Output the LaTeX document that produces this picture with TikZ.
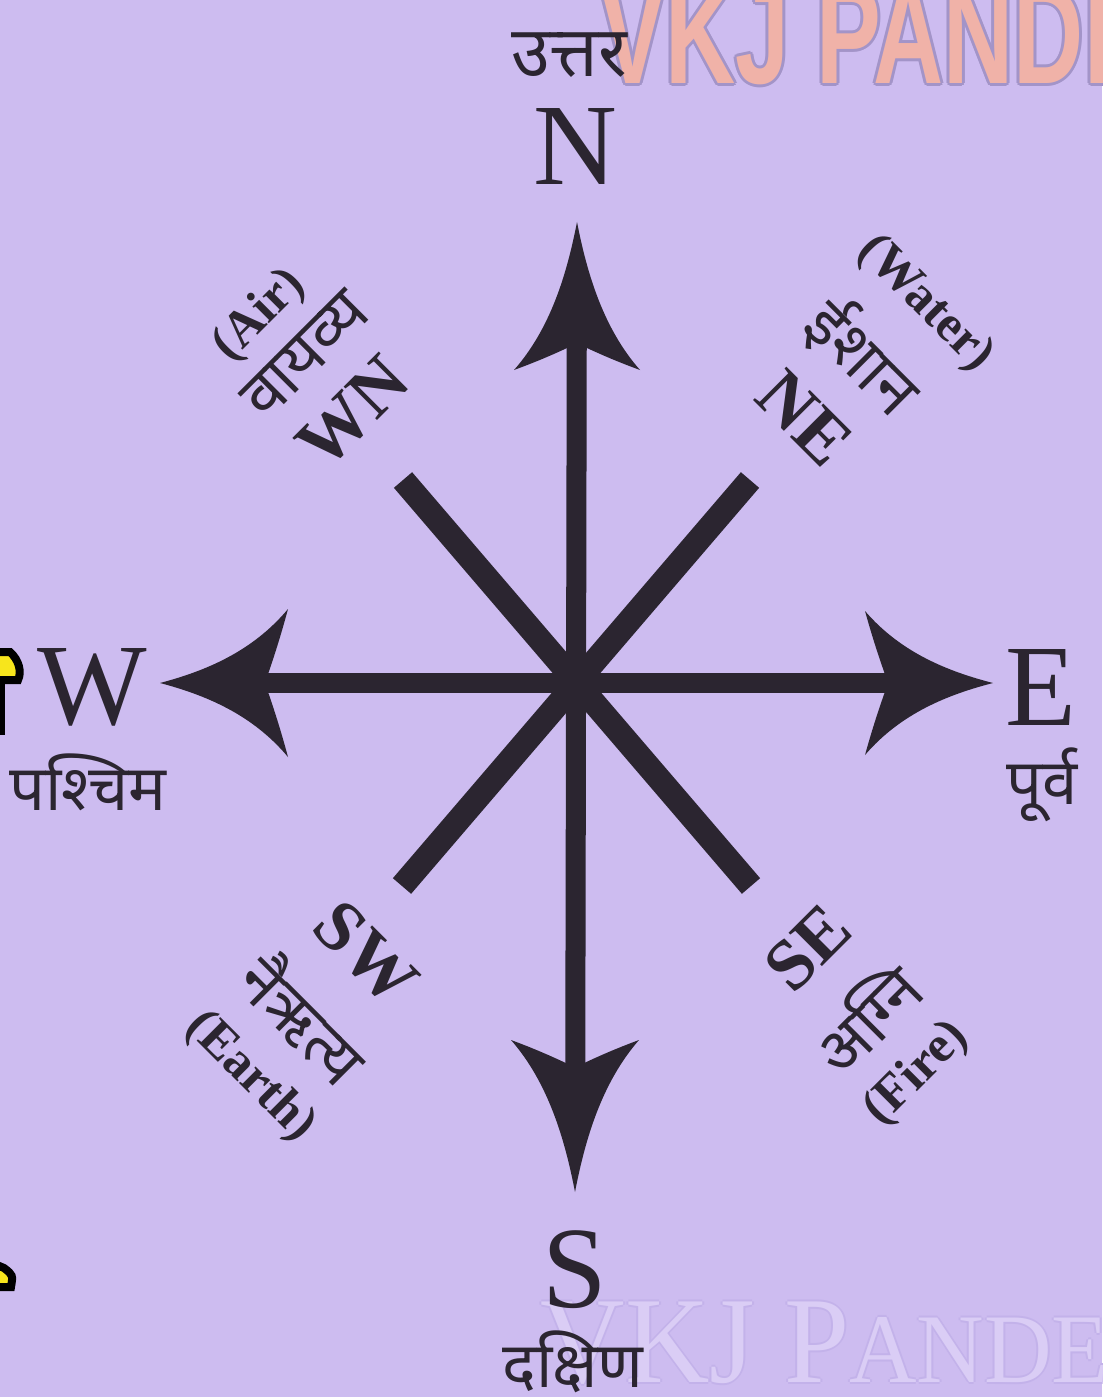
\documentclass[tikz,border=0pt]{standalone}
\usepackage{fontspec}
\setmainfont{Liberation Serif}
\newfontfamily\hindi[Script=Devanagari]{Noto Sans}
\newfontfamily\wmsans{Liberation Sans}
\usepackage{xcolor}
\definecolor{lavender}{HTML}{CDBCF0}
\definecolor{ink}{HTML}{2B2530}
\definecolor{wmfill}{HTML}{F0B2A8}
\definecolor{wmedge}{HTML}{A394C8}
\definecolor{wmpale}{HTML}{DACDF5}
\definecolor{wmpaleedge}{HTML}{C3B2EA}
\definecolor{tagyellow}{HTML}{F7E51C}
\usetikzlibrary{positioning}
\tikzset{
  bigdir/.style ={font=\fontsize{33}{36}\selectfont, text=ink, inner sep=0pt},
  diagdir/.style={font=\bfseries\fontsize{20.5}{22}\selectfont, text=ink, inner sep=0pt},
  elem/.style   ={font=\bfseries\fontsize{14.5}{16}\selectfont, text=ink, inner sep=0pt},
  hin/.style    ={font=\hindi\fontsize{18}{21}\selectfont, text=ink, inner sep=0pt},
  hinrot/.style ={font=\hindi\fontsize{18.5}{21}\selectfont, text=ink, inner sep=0pt},
  shaft/.style  ={draw=ink, line width=2mm, shorten <=6mm, shorten >=6mm},
  spoke/.style  ={draw=ink, line width=2.4mm},
  wmtop/.style  ={font=\wmsans\bfseries\fontsize{40}{42}\selectfont, xscale=0.69, inner sep=0pt, anchor=base west},
  wmbot/.style  ={font=\fontsize{35}{38}\selectfont, xscale=0.95, inner sep=0pt, anchor=base west},
  pics/barbhead/.style n args={2}{code={
    \fill[ink] (0,0) .. controls (-0.35*#1,0.16*#2) and (-0.72*#1,0.42*#2) .. (-#1,#2)
      .. controls (-0.93*#1,0.55*#2) and (-0.87*#1,0.25*#2) .. (-0.82*#1,0)
      .. controls (-0.87*#1,-0.25*#2) and (-0.93*#1,-0.55*#2) .. (-#1,-#2)
      .. controls (-0.72*#1,-0.42*#2) and (-0.35*#1,-0.16*#2) .. (0,0) -- cycle;
  }},
}

\begin{document}
\begin{tikzpicture}[x=0.01cm, y=-0.01cm]
  \useasboundingbox (0,0) rectangle (1102,1397);
  \fill[lavender] (0,0) rectangle (1102,1397);
  \clip (0,0) rectangle (1102,1397);
  % watermarks
  \foreach \dx/\dy in {-3/0,3/0,0/-3,0/3,-2/-2,2/2,-2/2,2/-2}
    \node[wmtop, text=wmedge] at (600+\dx,84+\dy) {VKJ PANDEY};
  \node[wmtop, text=wmfill] (wmtopline) at (600,84) {VKJ PANDEY};
  \foreach \dx/\dy in {-2/0,2/0,0/-2,0/2}
    \node[wmbot, text=wmpaleedge] at (540+\dx,1382+\dy) {VKJ P{\fontsize{28}{30}\selectfont ANDEY}};
  \node[wmbot, text=wmpale] (wmbotline) at (540,1382) {VKJ P{\fontsize{28}{30}\selectfont ANDEY}};
  % bits at the left edge
  \filldraw[fill=tagyellow, draw=black, line width=0.8mm]
    (-10,652) -- (10,652) .. controls (19,660) and (22,672) .. (18,680) -- (-10,680) -- cycle;
  \fill[black] (-5,680) rectangle (5,735);
  \filldraw[fill=tagyellow, draw=black, line width=0.8mm]
    (-10,1262) -- (4,1268) .. controls (13,1275) .. (11,1287) -- (-10,1287) -- cycle;

  % compass
  \coordinate (ctr)   at (576,683);
  \coordinate (ntip)  at (577,222);
  \coordinate (stip)  at (575,1192);
  \coordinate (wtip)  at (160,683);
  \coordinate (etip)  at (993,683);
  \coordinate (nwend) at (403,480);
  \coordinate (seend) at (751,886);
  \coordinate (neend) at (750,480);
  \coordinate (swend) at (402,886);
  \draw[spoke] (nwend) -- (seend);
  \draw[spoke] (neend) -- (swend);
  \draw[shaft] (ntip) -- (stip);
  \draw[shaft] (wtip) -- (etip);
  \pic[rotate=90]  at (ntip) {barbhead={148}{63}};
  \pic[rotate=-90] at (stip) {barbhead={152}{64}};
  \pic[rotate=180] at (wtip) {barbhead={128}{74}};
  \pic             at (etip) {barbhead={128}{72}};

  % main points
  \node[hin, font=\hindi\fontsize{20}{22}\selectfont] (uttar) at (569,55) {उत्तर};
  \node[bigdir]  (north)    at (575,147)  {N};
  \node[bigdir]  (west)     at (92,687)   {W};
  \node[hin]     (pashchim) at (88,782)   {पश्चिम};
  \node[bigdir]  (east)     at (1041,687) {E};
  \node[hin]     (purv)     at (1042,785) {पूर्व};
  \node[bigdir]  (south)    at (575,1270) {S};
  \node[hin]     (dakshin)  at (573,1362) {दक्षिण};

  % corners
  \node[diagdir, rotate=45]  (wn)       at (353,412)  {WN};
  \node[hinrot,  rotate=45]  (vayavya)  at (305,355)  {वायव्य};
  \node[elem,    rotate=45]  (air)      at (260,316)  {(Air)};
  \node[diagdir, rotate=-45] (ne)       at (805,418)  {NE};
  \node[hinrot,  rotate=-45] (ishan)    at (863,357)  {ईशान};
  \node[elem,    rotate=-45] (water)    at (925,304)  {(Water)};
  \node[diagdir, rotate=-45] (sw)       at (366,953)  {SW};
  \node[hinrot,  rotate=-45] (nairitya) at (305,1018) {नैऋत्य};
  \node[elem,    rotate=-45] (earth)    at (250,1077) {(Earth)};
  \node[diagdir, rotate=45]  (se)       at (808,948)  {SE};
  \node[hinrot,  rotate=45]  (agni)     at (865,1017) {अग्नि};
  \node[elem,    rotate=45]  (fire)     at (917,1074) {(Fire)};
\end{tikzpicture}
\end{document}
